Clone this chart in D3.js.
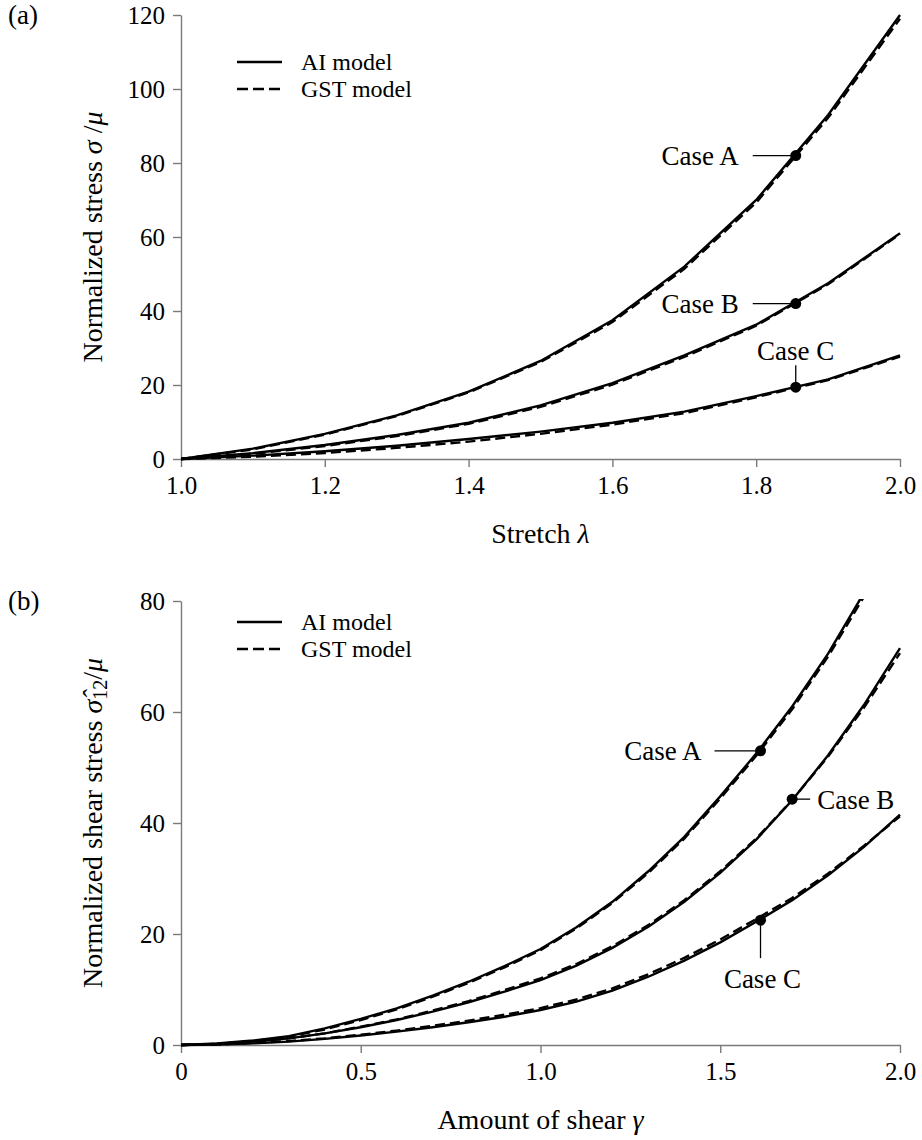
<!DOCTYPE html>
<html>
<head>
<meta charset="utf-8">
<script src="https://cdn.jsdelivr.net/npm/d3@7"></script>
<style>
  body { margin: 0; background: #fff; }
  svg text { font-family: "Liberation Serif", "Times New Roman", serif; fill: #000; }
</style>
</head>
<body>
<div class="chart"></div>
<script>
// ---- panel (a): uniaxial stretch ----
const stretch = [1.0, 1.1, 1.2, 1.3, 1.4, 1.5, 1.6, 1.7, 1.8, 1.9, 2.0];
const stressA_AI = [0, 2.8, 6.8, 11.8, 18.2, 26.5, 37.5, 52.0, 70.0, 93.0, 120.0];
const stressA_GST = [0, 2.6, 6.6, 11.6, 18.0, 26.2, 37.0, 51.4, 69.3, 92.2, 119.0];
const stressB_AI = [0, 1.6, 3.8, 6.5, 9.8, 14.5, 20.5, 28.0, 36.3, 47.5, 61.0];
const stressB_GST = [0, 1.4, 3.5, 6.2, 9.5, 14.1, 20.1, 27.6, 36.0, 47.2, 60.8];
const stressC_AI = [0, 0.9, 2.1, 3.6, 5.4, 7.4, 9.8, 12.8, 17.0, 21.5, 28.0];
const stressC_GST = [0, 0.6, 1.6, 3.0, 4.7, 6.8, 9.3, 12.4, 16.7, 21.3, 27.7];
const stretchTicks = [1.0, 1.2, 1.4, 1.6, 1.8, 2.0];
const stressTicks = [0, 20, 40, 60, 80, 100, 120];
const stretchCases = ['Case A', 'Case B', 'Case C'];
const stretchCaseX = [1.855, 1.855, 1.855];
const stretchCaseY = [82, 42, 19.4];

// ---- panel (b): simple shear ----
const shear = [0, 0.1, 0.2, 0.3, 0.4, 0.5, 0.6, 0.7, 0.8, 0.9, 1.0,
  1.1, 1.2, 1.3, 1.4, 1.5, 1.6, 1.7, 1.8, 1.9, 2.0];
const shearA_AI = [0, 0.3, 0.8, 1.6, 3.0, 4.7, 6.6, 8.9, 11.4, 14.2, 17.3,
  21.2, 25.8, 31.3, 37.5, 44.8, 52.5, 61.0, 70.5, 81.5, 93.5];
const shearA_GST = [0, 0.2, 0.7, 1.5, 2.8, 4.5, 6.4, 8.7, 11.2, 14.0, 17.1,
  21.0, 25.6, 31.0, 37.2, 44.4, 52.1, 60.5, 70.0, 80.8, 92.5];
const shearB_AI = [0, 0.2, 0.6, 1.2, 2.1, 3.2, 4.5, 6.0, 7.7, 9.6, 11.7,
  14.3, 17.5, 21.3, 25.8, 31.0, 37.0, 44.1, 52.2, 61.3, 71.5];
const shearB_GST = [0, 0.15, 0.55, 1.2, 2.1, 3.3, 4.6, 6.2, 7.9, 9.9, 12.0,
  14.6, 17.8, 21.6, 26.1, 31.3, 37.2, 44.1, 52.0, 60.8, 70.6];
const shearC_AI = [0, 0.1, 0.3, 0.6, 1.1, 1.7, 2.4, 3.2, 4.1, 5.1, 6.3,
  7.8, 9.8, 12.3, 15.2, 18.5, 22.2, 26.1, 30.6, 35.7, 41.5];
const shearC_GST = [0, 0.12, 0.35, 0.7, 1.2, 1.85, 2.6, 3.45, 4.4, 5.45, 6.65,
  8.2, 10.2, 12.75, 15.7, 19.0, 22.7, 26.5, 30.9, 35.9, 41.2];
const shearTicks = [0, 0.5, 1.0, 1.5, 2.0];
const shearTickLabels = ['0', '0.5', '1.0', '1.5', '2.0'];
const shearStressTicks = [0, 20, 40, 60, 80];
const shearCases = ['Case A', 'Case B', 'Case C'];
const shearCaseX = [1.612, 1.700, 1.612];
const shearCaseY = [53, 44.3, 22.5];

const legendLabels = ['AI model', 'GST model'];

const width = 922;
const height = 1140;
const axisColor = '#7a7a7a';

const svg = d3.select('.chart')
  .append('svg')
  .attr('width', width)
  .attr('height', height);

const drawPanel = (opts) => {
  const { top, bottom, left, right } = opts;
  const g = svg.append('g');

  const x = d3.scaleLinear().domain(opts.xDomain).range([left, right]);
  const y = d3.scaleLinear().domain(opts.yDomain).range([bottom, top]);

  const clipId = `clip-${opts.name}`;
  svg.append('clipPath').attr('id', clipId)
    .append('rect')
    .attr('x', left).attr('y', top - 2)
    .attr('width', right - left + 2).attr('height', bottom - top + 4);

  // axes
  const xAxis = d3.axisBottom(x)
    .tickValues(opts.xTicks)
    .tickSize(8)
    .tickSizeOuter(0)
    .tickPadding(6)
    .tickFormat((d, i) => opts.xTickLabels[i]);
  const yAxis = d3.axisLeft(y)
    .tickValues(opts.yTicks)
    .tickSize(8)
    .tickSizeOuter(0)
    .tickPadding(8)
    .tickFormat(d3.format('d'));

  const xg = g.append('g').attr('transform', `translate(0,${bottom})`).call(xAxis);
  const yg = g.append('g').attr('transform', `translate(${left},0)`).call(yAxis);
  [xg, yg].forEach(ax => {
    ax.select('.domain').attr('stroke', axisColor).attr('stroke-width', 1.4);
    ax.selectAll('.tick line').attr('stroke', axisColor).attr('stroke-width', 1.4);
    ax.selectAll('.tick text')
      .style('font-family', '"Liberation Serif", "Times New Roman", serif')
      .style('font-size', '25px')
      .attr('fill', '#000');
  });
  xg.selectAll('.tick text').attr('dy', '0.85em');

  // curves
  const line = d3.line()
    .x(d => x(d[0]))
    .y(d => y(d[1]));
  const curves = g.append('g').attr('clip-path', `url(#${clipId})`);
  opts.series.forEach(s => {
    const pts = opts.xs.map((v, i) => [v, s.values[i]]);
    curves.append('path')
      .attr('d', line(pts))
      .attr('fill', 'none')
      .attr('stroke', '#000')
      .attr('stroke-width', 2.4)
      .attr('stroke-dasharray', s.dashed ? '10,5' : null);
  });

  // case markers with leaders
  opts.cases.forEach((name, i) => {
    const cx = x(opts.caseX[i]);
    const cy = y(opts.caseY[i]);
    const a = opts.annot[i];
    g.append('line')
      .attr('x1', cx).attr('y1', cy)
      .attr('x2', cx + a.lx).attr('y2', cy + a.ly)
      .attr('stroke', '#000').attr('stroke-width', 1.3);
    g.append('circle')
      .attr('cx', cx).attr('cy', cy).attr('r', 5.5)
      .attr('fill', '#000');
    g.append('text')
      .attr('x', cx + a.tx).attr('y', cy + a.ty)
      .attr('dy', '0.35em')
      .attr('text-anchor', a.anchor)
      .style('font-size', '27px')
      .text(name);
  });

  // legend
  legendLabels.forEach((lab, i) => {
    const ly = top + opts.legendY[i];
    g.append('line')
      .attr('x1', left + 56).attr('x2', left + 101)
      .attr('y1', ly).attr('y2', ly)
      .attr('stroke', '#000').attr('stroke-width', 2.6)
      .attr('stroke-dasharray', i === 1 ? '11,5' : null);
    g.append('text')
      .attr('x', left + 120).attr('y', ly)
      .attr('dy', '0.33em')
      .style('font-size', '24px')
      .text(lab);
  });

  // panel tag
  g.append('text')
    .attr('x', 8).attr('y', top + 9)
    .style('font-size', '27px')
    .text(opts.tag);

  // x title
  const xt = g.append('text')
    .attr('x', (left + right) / 2).attr('y', bottom + 84)
    .attr('text-anchor', 'middle')
    .style('font-size', '28px');
  xt.append('tspan').text(opts.xTitle + ' ');
  xt.append('tspan').style('font-style', 'italic').text(opts.xSymbol);

  // y title
  const yt = g.append('text')
    .attr('transform', `translate(102,${(top + bottom) / 2}) rotate(-90)`)
    .attr('text-anchor', 'middle')
    .style('font-size', '28px');
  opts.yTitle(yt);
};

drawPanel({
  name: 'a', tag: '(a)',
  top: 15, bottom: 459, left: 181, right: 900,
  xDomain: [1, 2], yDomain: [0, 120],
  xTicks: stretchTicks,
  xTickLabels: stretchTicks.map(d => d.toFixed(1)),
  yTicks: stressTicks,
  xs: stretch,
  series: [
    { values: stressA_GST, dashed: true },
    { values: stressB_GST, dashed: true },
    { values: stressC_GST, dashed: true },
    { values: stressA_AI, dashed: false },
    { values: stressB_AI, dashed: false },
    { values: stressC_AI, dashed: false },
  ],
  cases: stretchCases, caseX: stretchCaseX, caseY: stretchCaseY,
  annot: [
    { lx: -43, ly: 0, tx: -57, ty: 0, anchor: 'end' },
    { lx: -43, ly: 0, tx: -57, ty: 0, anchor: 'end' },
    { lx: 0, ly: -22, tx: 0, ty: -37, anchor: 'middle' },
  ],
  legendY: [47, 74],
  xTitle: 'Stretch', xSymbol: 'λ',
  yTitle: (t) => {
    t.append('tspan').text('Normalized stress ');
    t.append('tspan').style('font-style', 'italic').text('σ');
    t.append('tspan').text(' /');
    t.append('tspan').style('font-style', 'italic').text('μ');
  },
});

drawPanel({
  name: 'b', tag: '(b)',
  top: 601, bottom: 1045, left: 181, right: 900,
  xDomain: [0, 2], yDomain: [0, 80],
  xTicks: shearTicks,
  xTickLabels: shearTickLabels,
  yTicks: shearStressTicks,
  xs: shear,
  series: [
    { values: shearA_GST, dashed: true },
    { values: shearB_GST, dashed: true },
    { values: shearC_GST, dashed: true },
    { values: shearA_AI, dashed: false },
    { values: shearB_AI, dashed: false },
    { values: shearC_AI, dashed: false },
  ],
  cases: shearCases, caseX: shearCaseX, caseY: shearCaseY,
  annot: [
    { lx: -46, ly: 0, tx: -59, ty: 0, anchor: 'end' },
    { lx: 18, ly: 0, tx: 25, ty: 0, anchor: 'start' },
    { lx: 0, ly: 38, tx: 2, ty: 58, anchor: 'middle' },
  ],
  legendY: [21, 48],
  xTitle: 'Amount of shear', xSymbol: 'γ',
  yTitle: (t) => {
    t.append('tspan').text('Normalized shear stress ');
    t.append('tspan').style('font-style', 'italic').text('σ\u0302');
    t.append('tspan').attr('baseline-shift', '-25%').style('font-size', '20px').text('12');
    t.append('tspan').text('/');
    t.append('tspan').style('font-style', 'italic').text('μ');
  },
});
</script>
</body>
</html>
